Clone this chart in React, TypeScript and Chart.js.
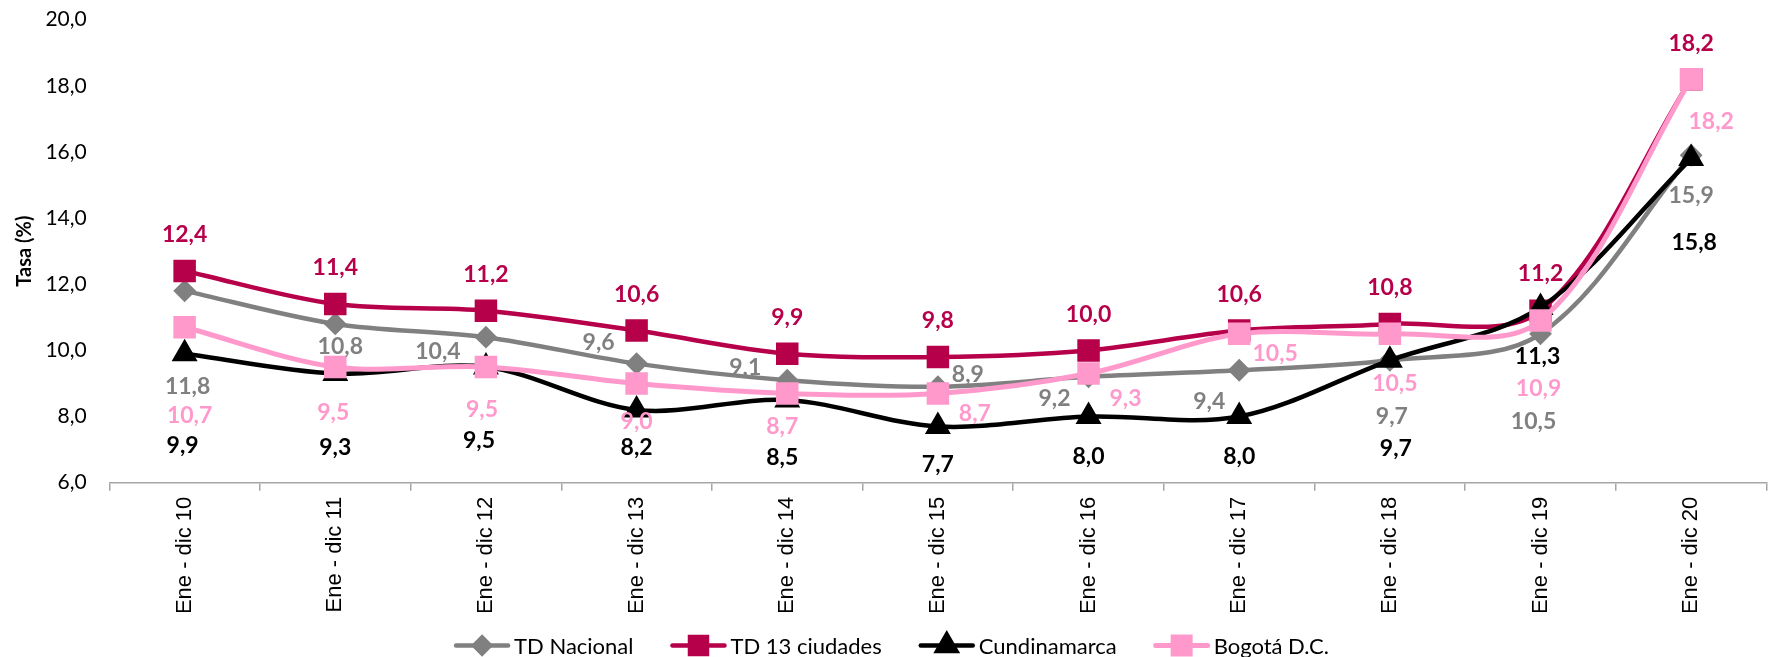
import { useEffect, useRef } from 'react';
import { Chart, registerables } from 'chart.js';
import { drawPoint } from 'chart.js/helpers';

Chart.register(...registerables);

const categories = [
  'Ene - dic 10', 'Ene - dic 11', 'Ene - dic 12', 'Ene - dic 13', 'Ene - dic 14', 'Ene - dic 15',
  'Ene - dic 16', 'Ene - dic 17', 'Ene - dic 18', 'Ene - dic 19', 'Ene - dic 20',
];

const tdNacional = [11.8, 10.8, 10.4, 9.6, 9.1, 8.9, 9.2, 9.4, 9.7, 10.5, 15.9];
const td13Ciudades = [12.4, 11.4, 11.2, 10.6, 9.9, 9.8, 10.0, 10.6, 10.8, 11.2, 18.2];
const cundinamarca = [9.9, 9.3, 9.5, 8.2, 8.5, 7.7, 8.0, 8.0, 9.7, 11.3, 15.8];
const bogota = [10.7, 9.5, 9.5, 9.0, 8.7, 8.7, 9.3, 10.5, 10.5, 10.9, 18.2];

const yMin = 6;
const yMax = 20;
const yStep = 2;

// label placement (pixel offsets from each point), kept apart from the data
const offNacional = [[3, 96], [5, 23], [-48, 14], [-38, -21], [-42, -13], [30, -12], [-34, 22], [-30, 31], [2, 56], [-7, 88], [0, 40]];
const off13 = [[0, -36], [0, -36], [0, -36], [0, -36], [0, -36], [0, -36], [0, -36], [0, -36], [0, -36], [0, -37], [0, -36]];
const offCund = [[-2, 92], [0, 74], [-7, 74], [0, 38], [-5, 58], [0, 38], [0, 40], [0, 40], [6, 88], [-3, 49], [3, 84]];
const offBog = [[5, 88], [-2, 46], [-4, 43], [0, 38], [-5, 33], [37, 20], [37, 25], [36, 20], [5, 50], [-2, 68], [20, 42]];

const fmt = (v: number) => v.toFixed(1).replace('.', ',');

const dataLabelPlugin = {
  id: 'dataLabels',
  afterDatasetsDraw(chart: any) {
    const ctx = chart.ctx;
    ctx.save();
    ctx.font = 'bold 23px Lato';
    ctx.textAlign = 'center';
    ctx.textBaseline = 'middle';
    chart.data.datasets.forEach((ds: any, di: number) => {
      const meta = chart.getDatasetMeta(di);
      meta.data.forEach((pt: any, i: number) => {
        const o = ds.labelOffsets[i];
        ctx.fillStyle = ds.labelColor;
        ctx.fillText(fmt(ds.data[i]), pt.x + o[0], pt.y + o[1]);
      });
    });
    ctx.restore();
  },
};

const legendPlugin = {
  id: 'customLegend',
  afterDraw(chart: any) {
    const ctx = chart.ctx;
    ctx.save();
    ctx.font = '22px Lato';
    ctx.textBaseline = 'middle';
    ctx.textAlign = 'left';
    const lineW = 56;
    const gapText = 4;
    const gapItem = 37;
    const items = chart.data.datasets.map((ds: any) => ({ ds, w: ctx.measureText(ds.label).width }));
    const total = items.reduce((s: number, it: any) => s + lineW + gapText + it.w, 0) + gapItem * (items.length - 1);
    let x = chart.width / 2 - total / 2;
    const y = chart.height - 11.5;
    items.forEach((it: any) => {
      const ds = it.ds;
      ctx.strokeStyle = ds.borderColor;
      ctx.lineWidth = ds.borderWidth;
      ctx.lineCap = 'round';
      ctx.beginPath();
      ctx.moveTo(x + 2, y);
      ctx.lineTo(x + lineW - 2, y);
      ctx.stroke();
      ctx.fillStyle = ds.pointBackgroundColor;
      ctx.strokeStyle = ds.pointBorderColor;
      drawPoint(ctx, {
        pointStyle: ds.pointStyle,
        radius: ds.legendRadius,
        rotation: 0,
        borderWidth: 2,
      } as any, x + lineW / 2, y);
      ctx.fillStyle = '#000000';
      ctx.fillText(ds.label, x + lineW + gapText, y + 1);
      x += lineW + gapText + it.w + gapItem;
    });
    ctx.restore();
  },
};

function makeDataset(label: string, data: number[], color: string, style: string, radius: number, legendRadius: number, width: number, order: number, offsets: number[][]) {
  return {
    label,
    data,
    borderColor: color,
    backgroundColor: color,
    pointBackgroundColor: color,
    pointBorderColor: color,
    pointStyle: style,
    pointRadius: radius,
    pointHoverRadius: radius,
    pointBorderWidth: 2,
    borderWidth: width,
    tension: 0.33,
    fill: false,
    order,
    labelColor: color,
    labelOffsets: offsets,
    legendRadius,
  };
}

export default function App() {
  const canvasRef = useRef<HTMLCanvasElement | null>(null);

  useEffect(() => {
    document.body.style.margin = '0';
    const canvas = canvasRef.current;
    if (!canvas) return;
    const chart = new Chart(canvas, {
      type: 'line',
      data: {
        labels: categories,
        datasets: [
          makeDataset('TD Nacional', tdNacional, '#808080', 'rectRot', 10, 8, 4.5, 3, offNacional),
          makeDataset('TD 13 ciudades', td13Ciudades, '#B7004A', 'rect', 14.5, 12, 4.5, 2, off13),
          makeDataset('Cundinamarca', cundinamarca, '#000000', 'triangle', 13, 11, 4.5, 1, offCund),
          makeDataset('Bogotá D.C.', bogota, '#FF99CC', 'rect', 14.5, 12, 5, 0, offBog),
        ] as any,
      },
      options: {
        responsive: false,
        animation: false,
        devicePixelRatio: 1,
        layout: { padding: { top: 19.6, bottom: 45, left: 0, right: 0 } },
        plugins: {
          legend: { display: false },
          tooltip: { enabled: false },
        },
        scales: {
          x: {
            type: 'category',
            offset: true,
            grid: {
              display: true,
              offset: true,
              drawOnChartArea: false,
              drawTicks: true,
              tickLength: 8,
              color: '#A6A6A6',
              lineWidth: 1.5,
            },
            border: { display: true, color: '#A6A6A6', width: 1.5 },
            ticks: {
              autoSkip: false,
              minRotation: 90,
              maxRotation: 90,
              padding: 6,
              color: '#000000',
              font: { family: 'Liberation Sans', size: 22 },
            },
            afterFit: (scale: any) => { scale.height = 129.3; },
          },
          y: {
            min: yMin,
            max: yMax,
            grid: { display: false, drawTicks: false },
            border: { display: false },
            ticks: {
              stepSize: yStep,
              padding: 22.6,
              color: '#000000',
              font: { family: 'Lato', size: 21 },
              callback: (v: any) => fmt(Number(v)),
            },
            title: {
              display: true,
              text: 'Tasa (%)',
              color: '#000000',
              font: { family: 'Lato', size: 20, weight: 'bold' },
              padding: { top: 13, bottom: 0 },
            },
            afterFit: (scale: any) => {
              scale.width = 109.3;
              scale.paddingTop = 0;
              scale.paddingBottom = 0;
            },
          },
        },
      } as any,
      plugins: [dataLabelPlugin, legendPlugin],
    });
    return () => chart.destroy();
  }, []);

  return (
    <div style={{ width: 1783, height: 657 }}>
      <canvas ref={canvasRef} width={1783} height={657} style={{ display: 'block' }} />
    </div>
  );
}
